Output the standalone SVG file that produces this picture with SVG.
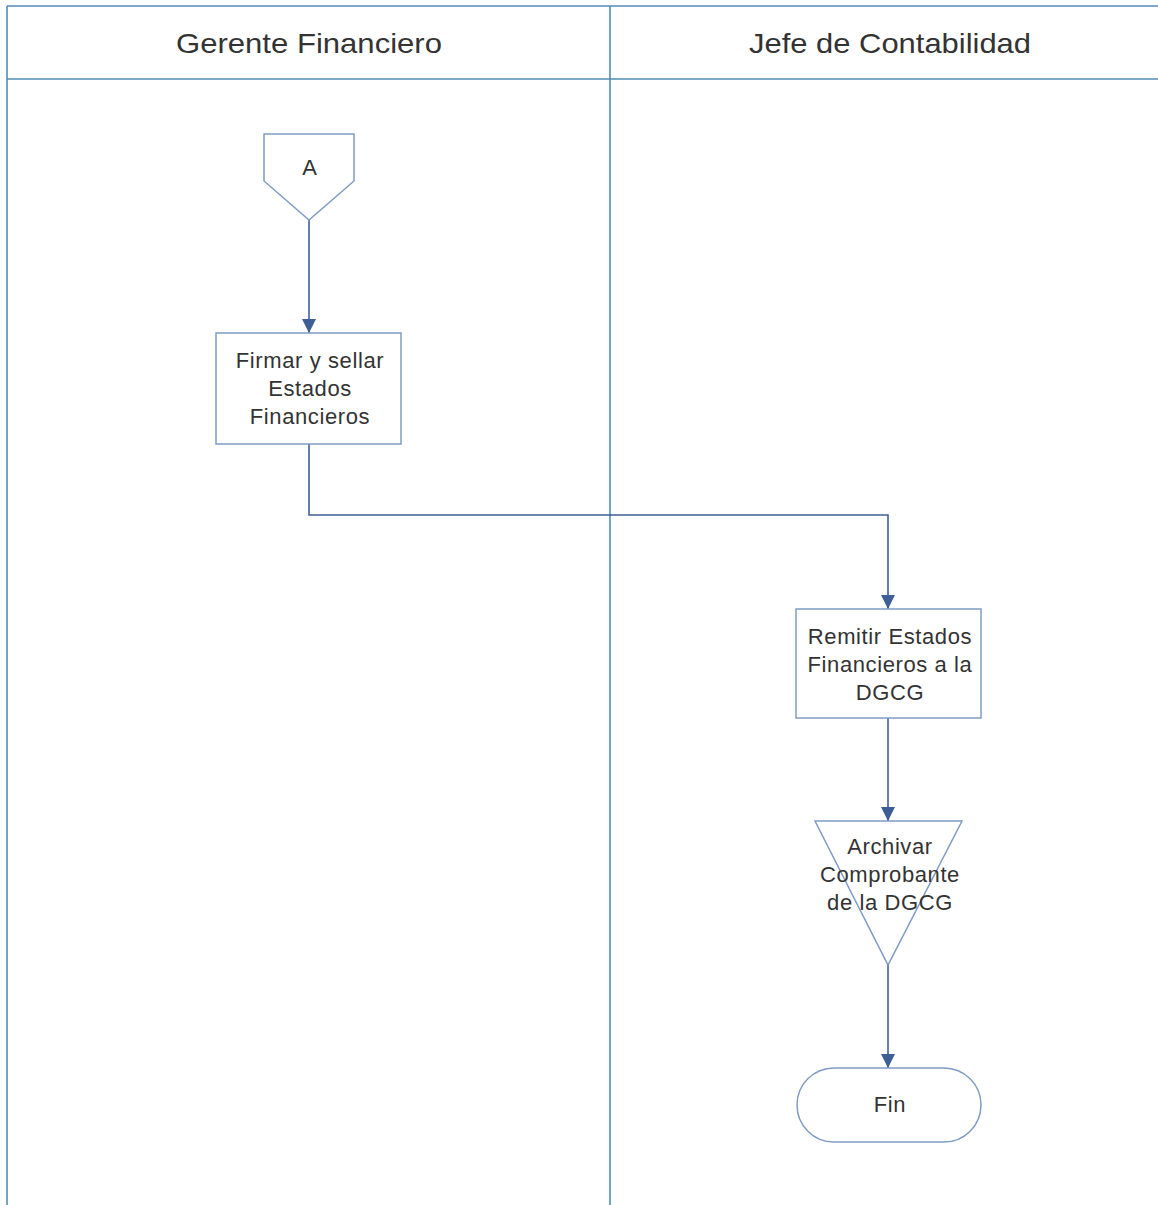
<svg xmlns="http://www.w3.org/2000/svg" width="1158" height="1205" viewBox="0 0 1158 1205">
  <style>
    .lane { stroke: #4f8db5; stroke-width: 1.6; fill: none; }
    .shape { fill: #ffffff; stroke: #7f9cc4; stroke-width: 1.5; }
    .flow { fill: none; stroke: #3d5f96; stroke-width: 1.6; }
    .title { font-family: "Liberation Sans", Arial, sans-serif; font-size: 28px; fill: #333333; text-anchor: middle; }
    .label { font-family: "Liberation Sans", Arial, sans-serif; font-size: 22px; letter-spacing: 0.6px; fill: #333333; text-anchor: middle; }
  </style>
  <defs>
    <marker id="arrow" viewBox="0 0 14 14" refX="14" refY="7" markerWidth="14" markerHeight="14" markerUnits="userSpaceOnUse" orient="auto">
      <path d="M0,0 L14,7 L0,14 Z" fill="#3d5f96"/>
    </marker>
  </defs>

  <rect width="1158" height="1205" fill="#ffffff"/>

  <!-- Swimlane frame -->
  <g id="lanes">
    <line class="lane" x1="7" y1="6" x2="1158" y2="6"/>
    <line class="lane" x1="7" y1="79" x2="1158" y2="79"/>
    <line class="lane" x1="7" y1="6" x2="7" y2="1205"/>
    <line class="lane" x1="610" y1="6" x2="610" y2="1205"/>
    <text class="title" x="309" y="53" textLength="266" lengthAdjust="spacingAndGlyphs">Gerente Financiero</text>
    <text class="title" x="890" y="53" textLength="282" lengthAdjust="spacingAndGlyphs">Jefe de Contabilidad</text>
  </g>

  <!-- Connectors -->
  <g id="connectors">
    <path class="flow" d="M309,220 L309,333" marker-end="url(#arrow)"/>
    <path class="flow" d="M309,444 L309,515 L888,515 L888,609" marker-end="url(#arrow)"/>
    <path class="flow" d="M888,718 L888,821" marker-end="url(#arrow)"/>
    <path class="flow" d="M888,965 L888,1068" marker-end="url(#arrow)"/>
  </g>

  <!-- Off-page connector A -->
  <g id="node-a">
    <path class="shape" d="M264,134 L354,134 L354,181 L309,220 L264,181 Z"/>
    <text class="label" x="310" y="175">A</text>
  </g>

  <!-- Process: sign and seal -->
  <g id="node-firmar">
    <rect class="shape" x="216" y="333" width="185" height="111"/>
    <text class="label" x="310" y="368">Firmar y sellar</text>
    <text class="label" x="310" y="396">Estados</text>
    <text class="label" x="310" y="424">Financieros</text>
  </g>

  <!-- Process: send statements -->
  <g id="node-remitir">
    <rect class="shape" x="796" y="609" width="185" height="109"/>
    <text class="label" x="890" y="644">Remitir Estados</text>
    <text class="label" x="890" y="672">Financieros a la</text>
    <text class="label" x="890" y="700">DGCG</text>
  </g>

  <!-- Archive (inverted triangle) -->
  <g id="node-archivar">
    <path class="shape" d="M815,821 L962,821 L888,965 Z"/>
    <text class="label" x="890" y="854">Archivar</text>
    <text class="label" x="890" y="882">Comprobante</text>
    <text class="label" x="890" y="910">de la DGCG</text>
  </g>

  <!-- Terminator -->
  <g id="node-fin">
    <rect class="shape" x="797" y="1068" width="184" height="74" rx="37" ry="37"/>
    <text class="label" x="890" y="1112">Fin</text>
  </g>
</svg>
